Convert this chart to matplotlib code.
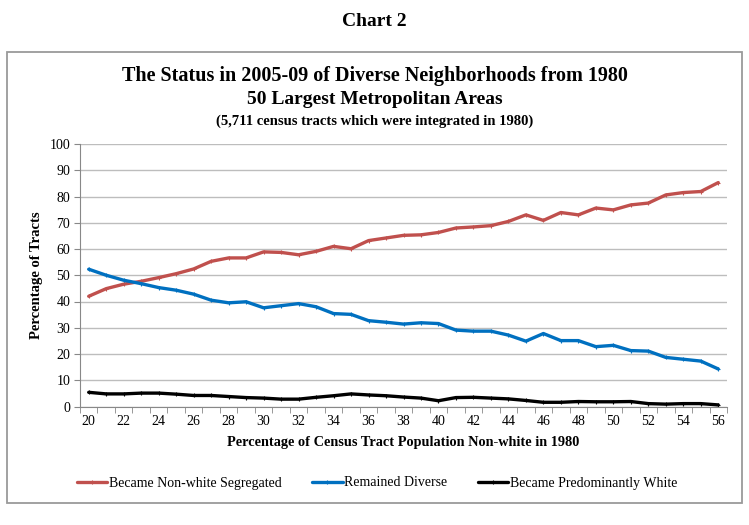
import matplotlib
matplotlib.use('Agg')
import matplotlib.pyplot as plt
from matplotlib.patches import Rectangle
import numpy as np

# percent non-white in 1980 (category axis)
pct_nonwhite = list(range(20, 57))

# status in 2005-09, percentage of tracts
segregated = [42.0, 44.9, 46.6, 47.7, 49.1, 50.6, 52.4, 55.3, 56.6, 56.6,
              58.9, 58.7, 57.8, 59.1, 61.0, 60.1, 63.2, 64.2, 65.2, 65.4,
              66.3, 68.0, 68.4, 68.9, 70.5, 73.0, 70.9, 73.9, 73.0, 75.6,
              74.9, 76.8, 77.5, 80.6, 81.5, 81.9, 85.3]
diverse = [52.3, 50.0, 48.1, 46.8, 45.3, 44.3, 42.8, 40.5, 39.5, 39.9,
           37.6, 38.4, 39.2, 38.0, 35.4, 35.1, 32.7, 32.1, 31.4, 31.9,
           31.6, 29.1, 28.7, 28.7, 27.2, 24.9, 27.8, 25.1, 25.1, 22.8,
           23.3, 21.3, 21.1, 18.7, 18.0, 17.3, 14.3]
white = [5.4, 4.8, 4.8, 5.1, 5.1, 4.7, 4.2, 4.2, 3.8, 3.4,
         3.2, 2.8, 2.8, 3.5, 4.1, 4.8, 4.4, 4.1, 3.6, 3.2,
         2.2, 3.4, 3.5, 3.2, 2.9, 2.3, 1.6, 1.6, 1.9, 1.8,
         1.8, 1.9, 1.1, 0.9, 1.1, 1.1, 0.6]

series_names = ['Became Non-white Segregated', 'Remained Diverse', 'Became Predominantly White']

plt.rcParams['font.family'] = ['Liberation Serif', 'DejaVu Serif']

fig = plt.figure(figsize=(7.49, 5.25), dpi=100)

# outer frame around the chart
fig.patches.append(Rectangle((7/749., 1 - 503/525.), 735/749., 451/525., transform=fig.transFigure,
                             fill=False, edgecolor='#9a9a9a', lw=1.3))

fig.text(0.5, 1 - 22/525., 'Chart 2', ha='center', va='center', fontsize=14, fontweight='bold')
fig.text(0.5, 1 - 76/525., 'The Status in 2005-09 of Diverse Neighborhoods from 1980',
         ha='center', va='center', fontsize=14.5, fontweight='bold')
fig.text(0.5, 1 - 100/525., '50 Largest Metropolitan Areas',
         ha='center', va='center', fontsize=14, fontweight='bold')
fig.text(0.5, 1 - 121/525., '(5,711 census tracts which were integrated in 1980)',
         ha='center', va='center', fontsize=10.5, fontweight='bold')

ax = fig.add_axes([80/749., 1 - 406.5/525., 647/749., 262.5/525.])

ax.plot(pct_nonwhite, segregated, color='#C0504D', lw=2.4, marker='+', ms=3, mew=0.8,
        label=series_names[0], solid_capstyle='round', solid_joinstyle='round')
ax.plot(pct_nonwhite, diverse, color='#0070C0', lw=2.4, marker='+', ms=3, mew=0.8,
        label=series_names[1], solid_capstyle='round', solid_joinstyle='round')
ax.plot(pct_nonwhite, white, color='black', lw=2.4, marker='+', ms=3, mew=0.8,
        label=series_names[2], solid_capstyle='round', solid_joinstyle='round')

ax.set_xlim(19.5, 56.5)
ax.set_ylim(0, 100)
ax.set_yticks(np.arange(0, 101, 10))
ax.set_xticks(np.arange(20, 57, 2))
ax.set_xticks(np.arange(19.5, 57, 1), minor=True)
ax.tick_params(axis='x', which='major', length=0, labelsize=10, pad=6)
ax.tick_params(axis='x', which='minor', length=4, color='#888888', direction='out')
ax.tick_params(axis='y', length=4, color='#888888', labelsize=10, pad=3)

ax.grid(True, axis='y', color='#bdbdbd', lw=1)
ax.set_axisbelow(True)
for s in ['top', 'right']:
    ax.spines[s].set_visible(False)
for s in ['left', 'bottom']:
    ax.spines[s].set_color('#888888')

ax.set_ylabel('Percentage of Tracts', fontsize=10.5, fontweight='bold', labelpad=5)
ax.set_xlabel('Percentage of Census Tract Population Non-white in 1980', fontsize=10.3,
              fontweight='bold', labelpad=6)

fig.legend(loc='center', bbox_to_anchor=(377/749., 1 - 483/525.), ncol=3, frameon=False,
           fontsize=10, handlelength=2.2, handletextpad=0.1, columnspacing=2.2)

plt.savefig('out.png', dpi=100)
plt.close()
